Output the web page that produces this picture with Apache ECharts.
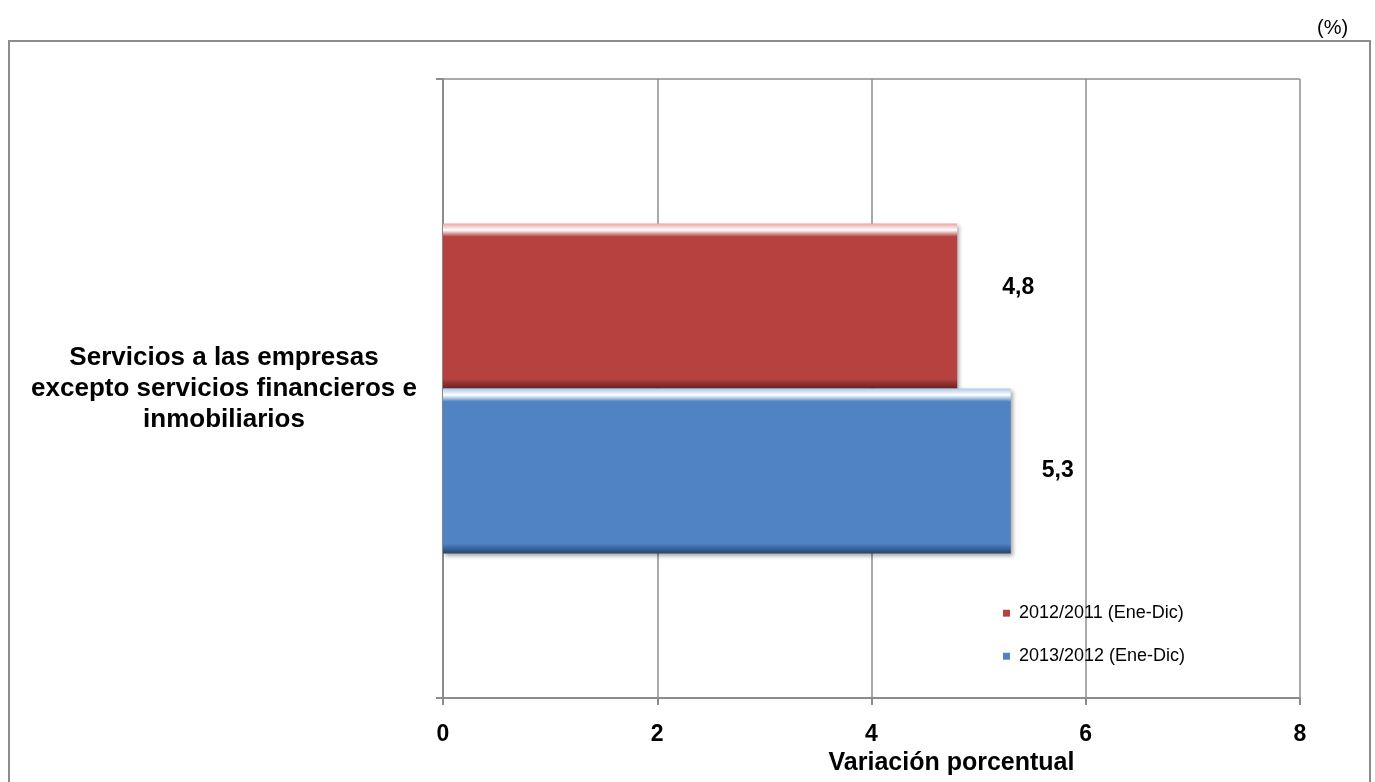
<!DOCTYPE html>
<html>
<head>
<meta charset="utf-8">
<script src="https://cdn.jsdelivr.net/npm/echarts@6/dist/echarts.min.js"></script>
<style>
  html, body { margin: 0; padding: 0; background: #fff; }
  #chart { width: 1375px; height: 782px; }
</style>
</head>
<body>
<div id="chart"></div>
<script>
const categories = ['Servicios a las empresas\nexcepto servicios financieros e\ninmobiliarios']
const seriesNames = ['2012/2011 (Ene-Dic)', '2013/2012 (Ene-Dic)']
const values2012 = [4.8]
const values2013 = [5.3]
const xTicks = { min: 0, max: 8, interval: 2 }

const chart = echarts.init(document.getElementById('chart'))

// fake the bevel: light top edge, flat body, dark bottom edge
function bevel(base, light, dark) {
  return {
    type: 'linear', x: 0, y: 0, x2: 0, y2: 1,
    colorStops: [
      { offset: 0, color: light },
      { offset: 0.04, color: '#ffffff' },
      { offset: 0.08, color: base },
      { offset: 0.94, color: base },
      { offset: 1, color: dark }
    ]
  }
}

const fmt = p => String(p.value).replace('.', ',')

const option = {
  animation: false,
  textStyle: { fontFamily: 'Liberation Sans, Arial, sans-serif' },
  graphic: [
    {
      type: 'rect',
      shape: { x: 9, y: 41, width: 1361, height: 760 },
      style: { fill: 'none', stroke: '#8c8c8c', lineWidth: 2 }
    },
    {
      type: 'text',
      left: 1317, top: 18,
      style: { text: '(%)', font: '20px Liberation Sans, Arial', fill: '#000' }
    }
  ],
  legend: {
    orient: 'vertical',
    left: 998,
    top: 599,
    itemWidth: 7,
    itemHeight: 7,
    itemGap: 25,
    icon: 'rect',
    textStyle: { fontSize: 18, color: '#000', padding: [0, 0, 0, 4] },
    data: seriesNames
  },
  grid: { left: 443, right: 75, top: 79, bottom: 84 },
  xAxis: {
    type: 'value',
    min: xTicks.min,
    max: xTicks.max,
    interval: xTicks.interval,
    name: 'Variación porcentual',
    nameLocation: 'middle',
    nameGap: 45,
    nameTextStyle: { fontSize: 25, fontWeight: 'bold', color: '#000', padding: [0, 0, 0, 160] },
    axisLine: { show: true, lineStyle: { color: '#8c8c8c', width: 2 } },
    axisTick: { show: true, length: 7, lineStyle: { color: '#8c8c8c', width: 2 } },
    axisLabel: { fontSize: 23, fontWeight: 'bold', color: '#000', margin: 25 },
    splitLine: { show: true, lineStyle: { color: '#8c8c8c', width: 1.5 } }
  },
  yAxis: {
    type: 'category',
    data: categories,
    axisLine: { show: true, lineStyle: { color: '#8c8c8c', width: 2 } },
    axisTick: { show: true, length: 7, lineStyle: { color: '#8c8c8c', width: 2 } },
    axisLabel: {
      fontSize: 26, fontWeight: 'bold', color: '#000',
      align: 'center', margin: 219, lineHeight: 31
    },
    splitLine: { show: true, lineStyle: { color: '#8c8c8c', width: 1.5 } }
  },
  series: [
    {
      name: seriesNames[0],
      type: 'bar',
      data: values2012,
      barWidth: 165,
      barGap: '0%',
      itemStyle: {
        color: bevel('#b5423f', '#e8a5a3', '#6b2220'),
        shadowColor: 'rgba(0,0,0,0.35)', shadowBlur: 4, shadowOffsetX: 2, shadowOffsetY: 2
      },
      label: {
        show: true, position: 'right', distance: 45, offset: [0, -18],
        fontSize: 23, fontWeight: 'bold', color: '#000', formatter: fmt
      }
    },
    {
      name: seriesNames[1],
      type: 'bar',
      data: values2013,
      barWidth: 165,
      barGap: '0%',
      itemStyle: {
        color: bevel('#4f83c4', '#a9c8ee', '#24446e'),
        shadowColor: 'rgba(0,0,0,0.35)', shadowBlur: 4, shadowOffsetX: 2, shadowOffsetY: 2
      },
      label: {
        show: true, position: 'right', distance: 31,
        fontSize: 23, fontWeight: 'bold', color: '#000', formatter: fmt
      }
    }
  ]
}

chart.setOption(option)
</script>
</body>
</html>
